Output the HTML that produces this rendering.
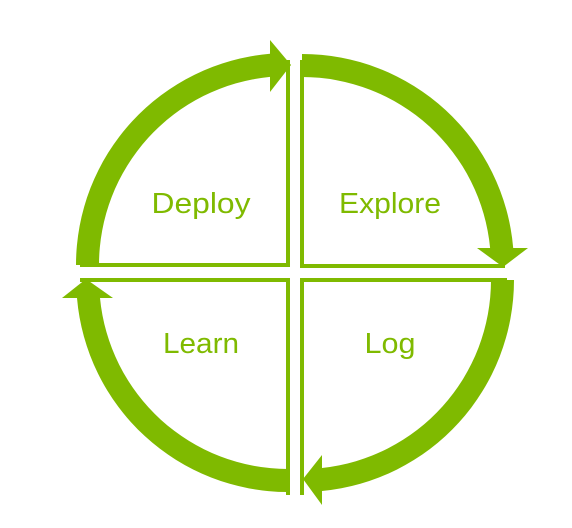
<!DOCTYPE html>
<html><head><style>html,body{margin:0;padding:0;background:#fff}svg{display:block}</style></head>
<body>
<svg width="572" height="528" viewBox="0 0 572 528" xmlns="http://www.w3.org/2000/svg">
<g fill="#7fba00">
<path d="M76,265 A212,212 0 0 1 270,53.8 L270,76.9 A189,189 0 0 0 99,265 Z"/>
<polygon points="270,40 291,65 270,92"/>
<path d="M302,54 A212,212 0 0 1 513.2,248 L490.1,248 A189,189 0 0 0 302,77 Z"/>
<polygon points="477,248 503,267 528,248"/>
<path d="M514,280 A212,212 0 0 1 322,491 L322,468 A189,189 0 0 0 491,280 Z"/>
<polygon points="322,455 303,479 322,505"/>
<path d="M288,492 A212,212 0 0 1 77,298 L100,298 A189,189 0 0 0 288,469 Z"/>
<polygon points="62,298 86,279 113,298"/>
</g>
<g stroke="#7fba00" stroke-width="4" fill="none">
<line x1="288" y1="60" x2="288" y2="267"/>
<line x1="80" y1="265" x2="290" y2="265"/>
<line x1="302" y1="60" x2="302" y2="268"/>
<line x1="300" y1="266" x2="505" y2="266"/>
<line x1="300" y1="280" x2="507" y2="280"/>
<line x1="302" y1="280" x2="302" y2="495"/>
<line x1="80" y1="280" x2="290" y2="280"/>
<line x1="288" y1="278" x2="288" y2="495"/>
</g>
<g fill="#7fba00" font-family="Liberation Sans, sans-serif" font-size="29" text-anchor="middle">
<text x="201" y="213" textLength="99" lengthAdjust="spacingAndGlyphs">Deploy</text>
<text x="390" y="213" textLength="102" lengthAdjust="spacingAndGlyphs">Explore</text>
<text x="201" y="353" textLength="76" lengthAdjust="spacingAndGlyphs">Learn</text>
<text x="390" y="353" textLength="51" lengthAdjust="spacingAndGlyphs">Log</text>
</g>
</svg>
</body></html>
